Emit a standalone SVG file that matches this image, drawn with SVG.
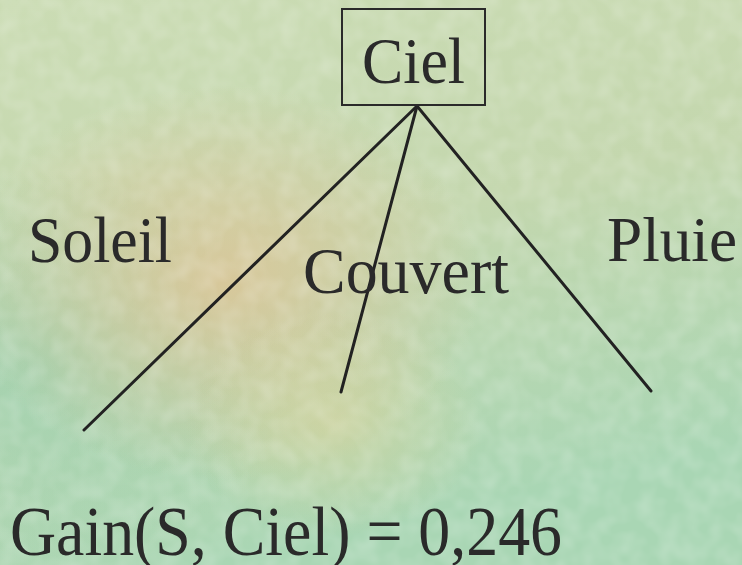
<svg xmlns="http://www.w3.org/2000/svg" width="742" height="565" viewBox="0 0 742 565">
<defs>
<linearGradient id="bg" x1="0" y1="0" x2="0.3" y2="1">
<stop offset="0" stop-color="#cbdcb4"/>
<stop offset="0.5" stop-color="#c4d7ae"/>
<stop offset="1" stop-color="#a9d6b4"/>
</linearGradient>
<radialGradient id="warm" cx="0.3" cy="0.5" r="0.35">
<stop offset="0" stop-color="#dcc597" stop-opacity="0.85"/>
<stop offset="1" stop-color="#dcc597" stop-opacity="0"/>
</radialGradient>
<radialGradient id="warm2" cx="0.45" cy="0.75" r="0.2">
<stop offset="0" stop-color="#d8d49c" stop-opacity="0.6"/>
<stop offset="1" stop-color="#d8d49c" stop-opacity="0"/>
</radialGradient>
<radialGradient id="cool" cx="0.05" cy="0.65" r="0.35">
<stop offset="0" stop-color="#98d0b0" stop-opacity="0.7"/>
<stop offset="1" stop-color="#98d0b0" stop-opacity="0"/>
</radialGradient>
<filter id="tex" x="0" y="0" width="100%" height="100%">
<feTurbulence type="fractalNoise" baseFrequency="0.05" numOctaves="2" seed="3"/>
<feColorMatrix type="matrix" values="0 0 0 0 1  0 0 0 0 1  0 0 0 0 1  0 0 0 0.35 -0.12"/>
</filter>
</defs>
<style>
.t{font-family:"Liberation Serif","Times New Roman",serif;fill:#2a2a2a}
.e{stroke:#222;stroke-width:3;fill:none;stroke-linecap:round}
</style>
<rect width="742" height="565" fill="url(#bg)"/>
<rect width="742" height="565" fill="url(#cool)"/>
<rect width="742" height="565" fill="url(#warm)"/>
<rect width="742" height="565" fill="url(#warm2)"/>
<rect width="742" height="565" filter="url(#tex)"/>
<g id="connectors">
<line class="e" x1="417" y1="106" x2="84" y2="430"/>
<line class="e" x1="417" y1="106" x2="341" y2="392"/>
<line class="e" x1="417" y1="106" x2="651" y2="391"/>
</g>
<g id="node-ciel">
<rect x="342" y="9" width="143" height="96" fill="none" stroke="#2a2a2a" stroke-width="2"/>
<text class="t" x="362" y="83" font-size="66" textLength="103" lengthAdjust="spacingAndGlyphs">Ciel</text>
</g>
<g id="label-soleil"><text class="t" x="28" y="262" font-size="66" textLength="144" lengthAdjust="spacingAndGlyphs">Soleil</text></g>
<g id="label-couvert"><text class="t" x="303" y="293" font-size="65" textLength="206" lengthAdjust="spacingAndGlyphs">Couvert</text></g>
<g id="label-pluie"><text class="t" x="607" y="261" font-size="63" textLength="130" lengthAdjust="spacingAndGlyphs">Pluie</text></g>
<g id="gain"><text class="t" x="10" y="555" font-size="70" textLength="552" lengthAdjust="spacingAndGlyphs">Gain(S, Ciel) = 0,246</text></g>
</svg>
